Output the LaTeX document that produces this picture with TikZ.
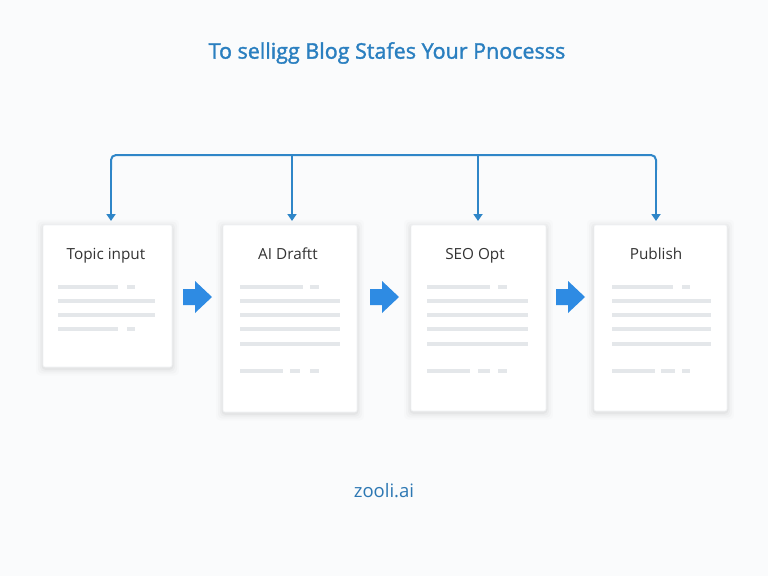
\documentclass[tikz,border=0pt]{standalone}
\usepackage{fontspec}
\setmainfont{Open Sans}
\newfontfamily\titlefont[FakeBold=1.6]{Open Sans}
\usetikzlibrary{arrows.meta}
\definecolor{bg}{HTML}{FAFBFC}
\definecolor{linkblue}{HTML}{2F86C8}
\definecolor{arrblue}{HTML}{2E8BE3}
\definecolor{titleblue}{HTML}{2A7FC0}
\definecolor{footblue}{HTML}{2C77B3}
\definecolor{txtgray}{HTML}{333333}
\definecolor{rulegray}{HTML}{E4E7EA}
\definecolor{edgegray}{HTML}{F0F2F4}
\tikzset{
  card/.style={draw=edgegray, line width=0.6pt, fill=white, rounded corners=2pt},
  cardtitle/.style={font=\fontsize{15.3}{17}\selectfont, text=txtgray, inner sep=0pt, anchor=base},
  rulebar/.style={draw=rulegray, line width=3.6pt},
  feed/.style={draw=linkblue, line width=2pt, -{Triangle[length=7pt,width=9pt]}},
  blockarrow/.style={fill=arrblue, draw=none},
}
\newcommand{\shadowbox}[4]{%
  \foreach \s/\o in {7/0.012,5/0.018,3/0.025,1.5/0.03}{
    \fill[black, opacity=\o, rounded corners=4pt] (#1-\s,#2-\s+1.5) rectangle (#3+\s,#4+\s+1.5);
  }
  \draw[card] (#1,#2) rectangle (#3,#4);
}
\newcommand{\barrow}[2]{% left x, center y
  \fill[blockarrow] (#1,#2-8) -- (#1+12,#2-8) -- (#1+12,#2-16) -- (#1+29,#2) -- (#1+12,#2+16) -- (#1+12,#2+8) -- (#1,#2+8) -- cycle;
}
\begin{document}
\begin{tikzpicture}[x=1pt,y=-1pt]
\fill[bg] (0,0) rectangle (768,576);
\useasboundingbox (0,0) rectangle (768,576);

% title
\node[font=\titlefont\fontsize{21.5}{24}\selectfont, text=titleblue] (title) at (387,53) {To selligg Blog Stafes Your Pnocesss};

% cards
\shadowbox{43}{225}{172}{367}
\shadowbox{223}{225}{357}{412}
\shadowbox{411}{225}{546}{411}
\shadowbox{594}{225}{727}{411}

\node[cardtitle] (t1) at (106,259) {Topic input};
\node[cardtitle] (t2) at (288,259) {AI Draftt};
\node[cardtitle] (t3) at (475,259) {SEO Opt};
\node[cardtitle] (t4) at (656,259) {Publish};

% text bars card 1
\draw[rulebar] (58,287) -- (118,287) (127,287) -- (135,287);
\draw[rulebar] (58,301) -- (155,301);
\draw[rulebar] (58,315) -- (155,315);
\draw[rulebar] (58,329) -- (118,329) (127,329) -- (135,329);
% card 2
\draw[rulebar] (240,287) -- (303,287) (310,287) -- (319,287);
\foreach \y in {301,315,329,344} \draw[rulebar] (240,\y) -- (340,\y);
\draw[rulebar] (240,371) -- (283,371) (290,371) -- (300,371) (310,371) -- (319,371);
% card 3
\draw[rulebar] (427,287) -- (490,287) (498,287) -- (507,287);
\foreach \y in {301,315,329,344} \draw[rulebar] (427,\y) -- (528,\y);
\draw[rulebar] (427,371) -- (470,371) (478,371) -- (490,371) (498,371) -- (507,371);
% card 4
\draw[rulebar] (612,287) -- (673,287) (682,287) -- (690,287);
\foreach \y in {301,315,329,344} \draw[rulebar] (612,\y) -- (711,\y);
\draw[rulebar] (612,371) -- (655,371) (661,371) -- (675,371) (682,371) -- (690,371);

% block arrows
\barrow{183}{297}
\barrow{370}{297}
\barrow{556}{297}

% feed lines
\coordinate (top1) at (111,155);
\coordinate (top4) at (656,155);
\coordinate (d1) at (111,170);
\coordinate (d4) at (656,170);
\coordinate (e1) at (111,221);
\coordinate (e2) at (292,221);
\coordinate (e3) at (478,221);
\coordinate (e4) at (656,221);
\draw[linkblue, line width=2pt, rounded corners=5pt] (d1) -- (top1) -- (top4) -- (d4);
\draw[feed] (d1) -- (e1);
\draw[feed] (292,155) -- (e2);
\draw[feed] (478,155) -- (e3);
\draw[feed] (d4) -- (e4);

% footer
\node[font=\fontsize{18.5}{20}\selectfont, text=footblue, anchor=base] (foot) at (384,497) {zooli.ai};
\end{tikzpicture}
\end{document}
